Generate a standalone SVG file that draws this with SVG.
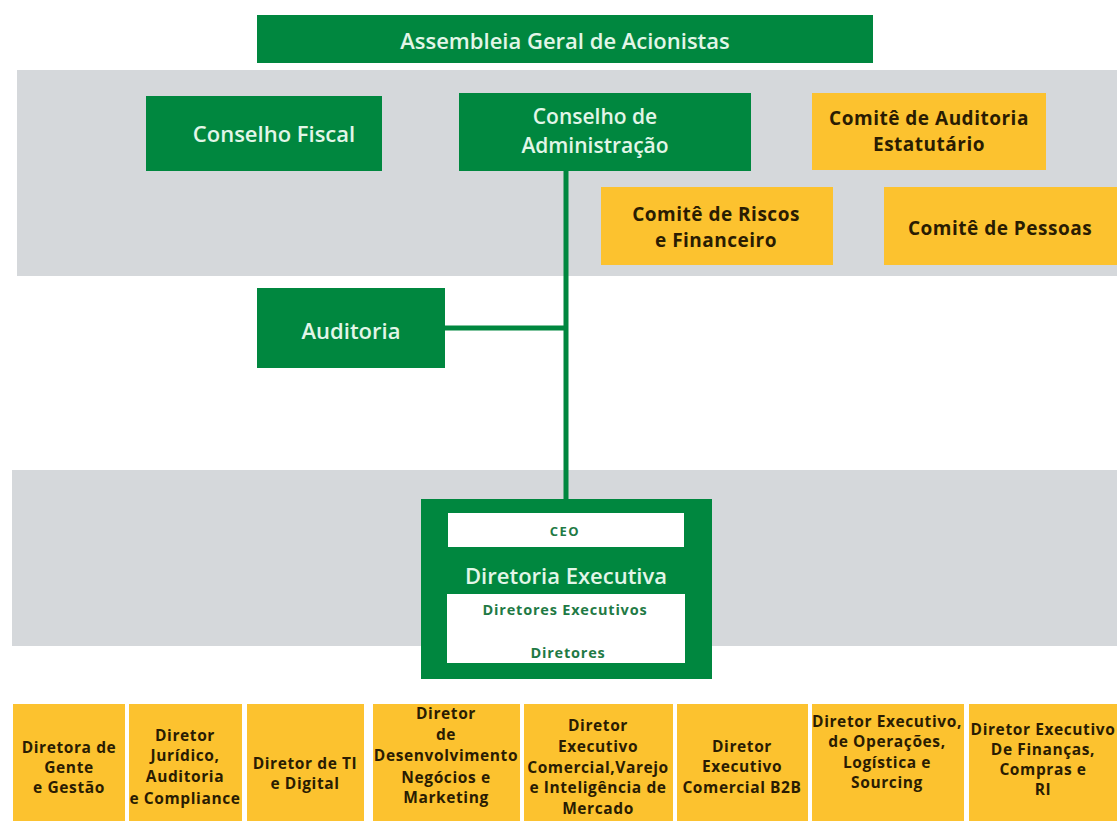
<svg xmlns="http://www.w3.org/2000/svg" width="1117" height="821" viewBox="0 0 1117 821">
<style>
.band{fill:#d5d8db}
.g{fill:#00873f}
.y{fill:#fcc22f}
.w{fill:#ffffff}
.tg{font-family:"Open Sans","DejaVu Sans",sans-serif;font-weight:600;font-size:22px;fill:#e2f6e8;text-anchor:middle;dominant-baseline:central}
.ty{font-family:"Open Sans","DejaVu Sans",sans-serif;font-weight:700;font-size:19px;letter-spacing:0.5px;fill:#2a1c02;text-anchor:middle;dominant-baseline:central}
.tb{font-family:"Open Sans","DejaVu Sans",sans-serif;font-weight:700;font-size:15.5px;letter-spacing:0.6px;fill:#2a1c02;text-anchor:middle;dominant-baseline:central}
.tw{font-family:"Open Sans","DejaVu Sans",sans-serif;font-weight:700;font-size:14.5px;letter-spacing:0.8px;fill:#1f7a45;text-anchor:middle;dominant-baseline:central}
.conn{stroke:#00873f;stroke-width:5;fill:none}
</style>
<rect width="1117" height="821" fill="#ffffff"/>
<g id="bands">
<rect class="band" x="17" y="70" width="1100" height="206"/>
<rect class="band" x="12" y="470" width="1105" height="176"/>
</g>
<g id="connectors">
<line class="conn" x1="566" y1="171" x2="566" y2="500"/>
<line class="conn" x1="445" y1="328" x2="566" y2="328"/>
</g>
<g id="assembleia">
<rect class="g" x="257" y="15" width="616" height="48"/>
<text class="tg" x="565" y="40">Assembleia Geral de Acionistas</text>
</g>
<g id="conselho-fiscal">
<rect class="g" x="146" y="96" width="236" height="75"/>
<text class="tg" x="274" y="133">Conselho Fiscal</text>
</g>
<g id="conselho-administracao">
<rect class="g" x="459" y="93" width="292" height="78"/>
<text class="tg" x="595" y="116" style="font-size:21px">Conselho de<tspan x="595" dy="29">Administração</tspan></text>
</g>
<g id="comite-auditoria">
<rect class="y" x="812" y="93" width="234" height="77"/>
<text class="ty" x="929" y="118">Comitê de Auditoria<tspan x="929" dy="26">Estatutário</tspan></text>
</g>
<g id="comite-riscos">
<rect class="y" x="601" y="187" width="232" height="78"/>
<text class="ty" x="716" y="214">Comitê de Riscos<tspan x="716" dy="26">e Financeiro</tspan></text>
</g>
<g id="comite-pessoas">
<rect class="y" x="884" y="187" width="233" height="78"/>
<text class="ty" x="1000" y="228">Comitê de Pessoas</text>
</g>
<g id="auditoria">
<rect class="g" x="257" y="288" width="188" height="80"/>
<text class="tg" x="351" y="330">Auditoria</text>
</g>
<g id="diretoria-executiva">
<rect class="g" x="421" y="499" width="291" height="180"/>
<rect class="w" x="448" y="513" width="236" height="34"/>
<text class="tw" x="565" y="531" style="font-size:13px;letter-spacing:1.5px">CEO</text>
<text class="tg" x="566" y="575">Diretoria Executiva</text>
<rect class="w" x="447" y="594" width="238" height="69"/>
<text class="tw" x="565" y="609">Diretores Executivos</text>
<text class="tw" x="568" y="652">Diretores</text>
</g>
<g id="dir-gente">
<rect class="y" x="13" y="704" width="112" height="117"/>
<text class="tb" x="69" y="747">Diretora de<tspan x="69" dy="20">Gente</tspan><tspan x="69" dy="20">e Gestão</tspan></text>
</g>
<g id="dir-juridico">
<rect class="y" x="129" y="704" width="113" height="117"/>
<text class="tb" x="185" y="735">Diretor<tspan x="185" dy="20">Jurídico,</tspan><tspan x="185" dy="21">Auditoria</tspan><tspan x="185" dy="22">e Compliance</tspan></text>
</g>
<g id="dir-ti">
<rect class="y" x="247" y="704" width="117" height="117"/>
<text class="tb" x="305" y="763">Diretor de TI<tspan x="305" dy="20">e Digital</tspan></text>
</g>
<g id="dir-desenvolvimento">
<rect class="y" x="373" y="704" width="147" height="117"/>
<text class="tb" x="446" y="713">Diretor<tspan x="446" dy="21">de</tspan><tspan x="446" dy="21">Desenvolvimento</tspan><tspan x="446" dy="22">Negócios e</tspan><tspan x="446" dy="20">Marketing</tspan></text>
</g>
<g id="dir-comercial">
<rect class="y" x="524" y="704" width="149" height="117"/>
<text class="tb" x="598" y="725">Diretor<tspan x="598" dy="21">Executivo</tspan><tspan x="598" dy="21">Comercial,Varejo</tspan><tspan x="598" dy="20">e Inteligência de</tspan><tspan x="598" dy="21">Mercado</tspan></text>
</g>
<g id="dir-b2b">
<rect class="y" x="677" y="704" width="131" height="117"/>
<text class="tb" x="742" y="746">Diretor<tspan x="742" dy="20">Executivo</tspan><tspan x="742" dy="21">Comercial B2B</tspan></text>
</g>
<g id="dir-operacoes">
<rect class="y" x="812" y="704" width="152" height="117"/>
<text class="tb" x="887" y="721">Diretor Executivo,<tspan x="887" dy="20">de Operações,</tspan><tspan x="887" dy="21">Logística e</tspan><tspan x="887" dy="20">Sourcing</tspan></text>
</g>
<g id="dir-financas">
<rect class="y" x="969" y="704" width="148" height="117"/>
<text class="tb" x="1043" y="729">Diretor Executivo<tspan x="1043" dy="20">De Finanças,</tspan><tspan x="1043" dy="20">Compras e</tspan><tspan x="1043" dy="20">RI</tspan></text>
</g>
</svg>
